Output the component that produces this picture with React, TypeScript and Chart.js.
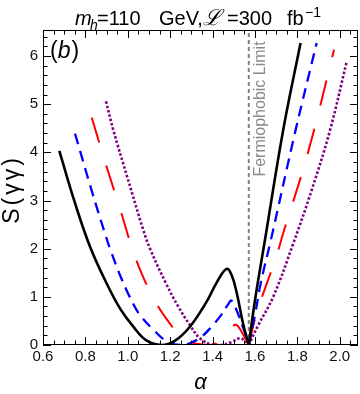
import React, { useEffect, useRef } from "react";
import { Chart, registerables } from "chart.js";
Chart.register(...registerables);

// ---- data ----
const FERMI_LIMIT = Math.PI / 2;
const X_MIN = 0.6;
const X_MAX = 2.086;
const Y_MIN = 0;
const Y_MAX = 6.54;
const xTickValues = [0.6, 0.8, 1.0, 1.2, 1.4, 1.6, 1.8, 2.0];
const yTickValues = [0, 1, 2, 3, 4, 5, 6];

const alphaBlack = [0.677, 0.75, 0.822, 0.9, 0.963, 1.026, 1.089, 1.16, 1.22, 1.293, 1.372, 1.42, 1.466, 1.49, 1.513, 1.545, 1.5708, 1.6, 1.647, 1.733, 1.815];
const sBlack = [4.03, 2.96, 2.04, 1.28, 0.76, 0.38, 0.09, 0.0, 0.08, 0.38, 0.9, 1.3, 1.58, 1.45, 1.1, 0.42, 0, 0.93, 2.18, 4.46, 6.27];

const alphaBlue = [0.751, 0.83, 0.892, 0.916, 0.97, 1.026, 1.058, 1.12, 1.183, 1.25, 1.3, 1.35, 1.395, 1.44, 1.474, 1.49, 1.515, 1.545, 1.5708, 1.6, 1.627, 1.675, 1.79, 1.891];
const sBlue = [4.39, 3.2, 2.32, 2.0, 1.38, 0.85, 0.62, 0.32, 0.08, 0.0, 0.05, 0.18, 0.38, 0.62, 0.85, 0.92, 0.7, 0.35, 0, 0.62, 1.28, 2.18, 4.43, 6.27];

const alphaRed = [0.83, 0.9, 0.971, 1.01, 1.05, 1.113, 1.175, 1.254, 1.32, 1.395, 1.44, 1.48, 1.51, 1.54, 1.5708, 1.608, 1.7, 1.733, 1.851, 1.973];
const sRed = [4.72, 3.7, 2.72, 2.15, 1.65, 1.04, 0.59, 0.17, 0.03, 0.0, 0.12, 0.31, 0.42, 0.25, 0, 0.66, 1.83, 2.32, 4.01, 6.13];

const alphaPurple = [0.897, 0.932, 1.0, 1.073, 1.105, 1.18, 1.238, 1.293, 1.34, 1.396, 1.44, 1.49, 1.529, 1.55, 1.5708, 1.615, 1.686, 1.78, 1.87, 1.954, 2.032];
const sPurple = [5.06, 4.46, 3.45, 2.39, 2.0, 1.28, 0.8, 0.415, 0.14, 0.01, 0.0, 0.06, 0.14, 0.1, 0, 0.41, 1.0, 2.1, 3.25, 4.46, 5.87];

const toPoints = (xs: number[], ys: number[]) => xs.map((x, i) => ({ x, y: ys[i] }));
// split a curve at the fermiophobic limit so the V-shaped zero stays sharp
const leftOf = (xs: number[], ys: number[]) => toPoints(xs, ys).filter((p) => p.x <= FERMI_LIMIT + 1e-3);
const rightOf = (xs: number[], ys: number[]) => toPoints(xs, ys).filter((p) => p.x >= FERMI_LIMIT - 1e-3);

const FONT = "'Liberation Sans', Arial, sans-serif";

const decorPlugin = {
  id: "decor",
  afterDraw(chart: any) {
    const ctx = chart.ctx as CanvasRenderingContext2D;
    const { left, right, top, bottom } = chart.chartArea;
    const xs = chart.scales.x;
    const ys = chart.scales.y;
    ctx.save();
    // frame
    ctx.strokeStyle = "#000";
    ctx.lineWidth = 1;
    ctx.strokeRect(left + 0.5, top + 0.5, right - left - 1, bottom - top - 1);
    // ticks
    ctx.beginPath();
    const major = 8, minor = 4.5;
    for (let i = 0; ; i++) {
      const v = X_MIN + i * 0.05;
      if (v > X_MAX + 1e-9) break;
      const px = Math.round(xs.getPixelForValue(v)) + 0.5;
      const len = i % 4 === 0 ? major : minor;
      ctx.moveTo(px, bottom);
      ctx.lineTo(px, bottom - len);
      ctx.moveTo(px, top);
      ctx.lineTo(px, top + len);
    }
    for (let i = 0; ; i++) {
      const v = Y_MIN + i * 0.2;
      if (v > Y_MAX + 1e-9) break;
      const py = Math.round(ys.getPixelForValue(v)) + 0.5;
      const len = i % 5 === 0 ? major : minor;
      ctx.moveTo(left, py);
      ctx.lineTo(left + len, py);
      ctx.moveTo(right, py);
      ctx.lineTo(right - len, py);
    }
    ctx.stroke();

    // Fermiophobic Limit label
    ctx.fillStyle = "#8a8a8a";
    ctx.font = `16px ${FONT}`;
    ctx.textAlign = "center";
    ctx.textBaseline = "alphabetic";
    ctx.save();
    ctx.translate(xs.getPixelForValue(FERMI_LIMIT) + 16, 109);
    ctx.rotate(-Math.PI / 2);
    ctx.fillText("Fermiophobic Limit", 0, 0);
    ctx.restore();

    // (b)
    ctx.fillStyle = "#000";
    ctx.textAlign = "left";
    let bx = 50;
    ctx.font = `23px ${FONT}`;
    ctx.fillText("(", bx, 58);
    bx += ctx.measureText("(").width;
    ctx.font = `italic 23px ${FONT}`;
    ctx.fillText("b", bx, 58);
    bx += ctx.measureText("b").width + 1;
    ctx.font = `23px ${FONT}`;
    ctx.fillText(")", bx, 58);

    // title (segment x-positions)
    const segs: [string, string, number, number][] = [
      ["m", `italic 20px ${FONT}`, 75, 0],
      ["h", `italic 14px ${FONT}`, 90, 5],
      ["=110", `20px ${FONT}`, 97, 0],
      ["GeV,", `20px ${FONT}`, 159, 0],
      ["\u2112", `italic 22px 'DejaVu Serif', serif`, 203, 0],
      ["=300", `20px ${FONT}`, 227, 0],
      ["fb", `20px ${FONT}`, 287, 0],
      ["\u22121", `14px ${FONT}`, 305, -8],
    ];
    for (const [t, f, x, dy] of segs) {
      ctx.font = f;
      ctx.fillText(t, x, 25 + dy);
    }

    // axis titles
    ctx.font = `italic 22px ${FONT}`;
    ctx.textAlign = "center";
    ctx.fillText("\u03b1", (left + right) / 2, 389);

    ctx.save();
    ctx.translate(19, 191);
    ctx.rotate(-Math.PI / 2);
    ctx.font = `23px ${FONT}`;
    const lbl = "S(\u03b3\u03b3)";
    const w = ctx.measureText(lbl).width;
    const extra = Math.max(0, Math.min(3, (67 - w) / (lbl.length - 1)));
    (ctx as any).letterSpacing = `${extra}px`;
    ctx.textAlign = "center";
    ctx.fillText(lbl, extra / 2, 0);
    ctx.restore();

    ctx.restore();
  },
};

export default function App() {
  const ref = useRef<HTMLCanvasElement>(null);
  useEffect(() => {
    if (!ref.current) return;
    const common = { pointRadius: 0, fill: false, tension: 0.4, borderCapStyle: "butt" as const };
    const series = [
      { xs: alphaBlack, ys: sBlack, color: "#000000", width: 2.6, dash: [] as number[], order: 1 },
      { xs: alphaBlue, ys: sBlue, color: "#0000ff", width: 2.3, dash: [11, 7], order: 2 },
      { xs: alphaRed, ys: sRed, color: "#ff0000", width: 2.0, dash: [26, 24], order: 3 },
      { xs: alphaPurple, ys: sPurple, color: "#800080", width: 2.6, dash: [2.5, 2], order: 4 },
    ];
    const datasets: any[] = [];
    for (const s of series) {
      for (const pts of [leftOf(s.xs, s.ys), rightOf(s.xs, s.ys)]) {
        datasets.push({ ...common, data: pts, borderColor: s.color, borderWidth: s.width, borderDash: s.dash, order: s.order });
      }
    }
    datasets.push({
      pointRadius: 0, fill: false, tension: 0,
      data: [{ x: FERMI_LIMIT, y: Y_MIN }, { x: FERMI_LIMIT, y: Y_MAX }],
      borderColor: "#808080", borderWidth: 2, borderDash: [4, 3], order: 10,
    });
    const chart = new Chart(ref.current, {
      type: "line",
      data: { datasets },
      options: {
        animation: false,
        responsive: false,
        layout: { padding: { top: 30, right: 2, left: 0, bottom: 0 } },
        plugins: { legend: { display: false }, tooltip: { enabled: false }, title: { display: false } },
        scales: {
          x: {
            type: "linear",
            min: X_MIN,
            max: X_MAX,
            grid: { display: false, drawTicks: false },
            border: { display: false },
            afterBuildTicks: (s: any) => { s.ticks = xTickValues.map((v) => ({ value: v })); },
            afterFit: (s: any) => { s.height = 49; },
            ticks: {
              callback: (v: any) => Number(v).toFixed(1),
              font: { size: 15, family: FONT },
              color: "#111",
              padding: 3,
              maxRotation: 0,
              autoSkip: false,
            },
          },
          y: {
            type: "linear",
            min: Y_MIN,
            max: Y_MAX,
            grid: { display: false, drawTicks: false },
            border: { display: false },
            afterBuildTicks: (s: any) => { s.ticks = yTickValues.map((v) => ({ value: v })); },
            afterFit: (s: any) => { s.width = 43; },
            ticks: {
              callback: (v: any) => String(v),
              font: { size: 15, family: FONT },
              color: "#111",
              padding: 5,
              autoSkip: false,
            },
          },
        },
      },
      plugins: [decorPlugin],
    });
    return () => chart.destroy();
  }, []);
  return (
    <div style={{ position: "fixed", left: 0, top: 0, width: 360, height: 394, background: "#fff" }}>
      <canvas ref={ref} width={360} height={394} style={{ display: "block", width: 360, height: 394 }} />
    </div>
  );
}
